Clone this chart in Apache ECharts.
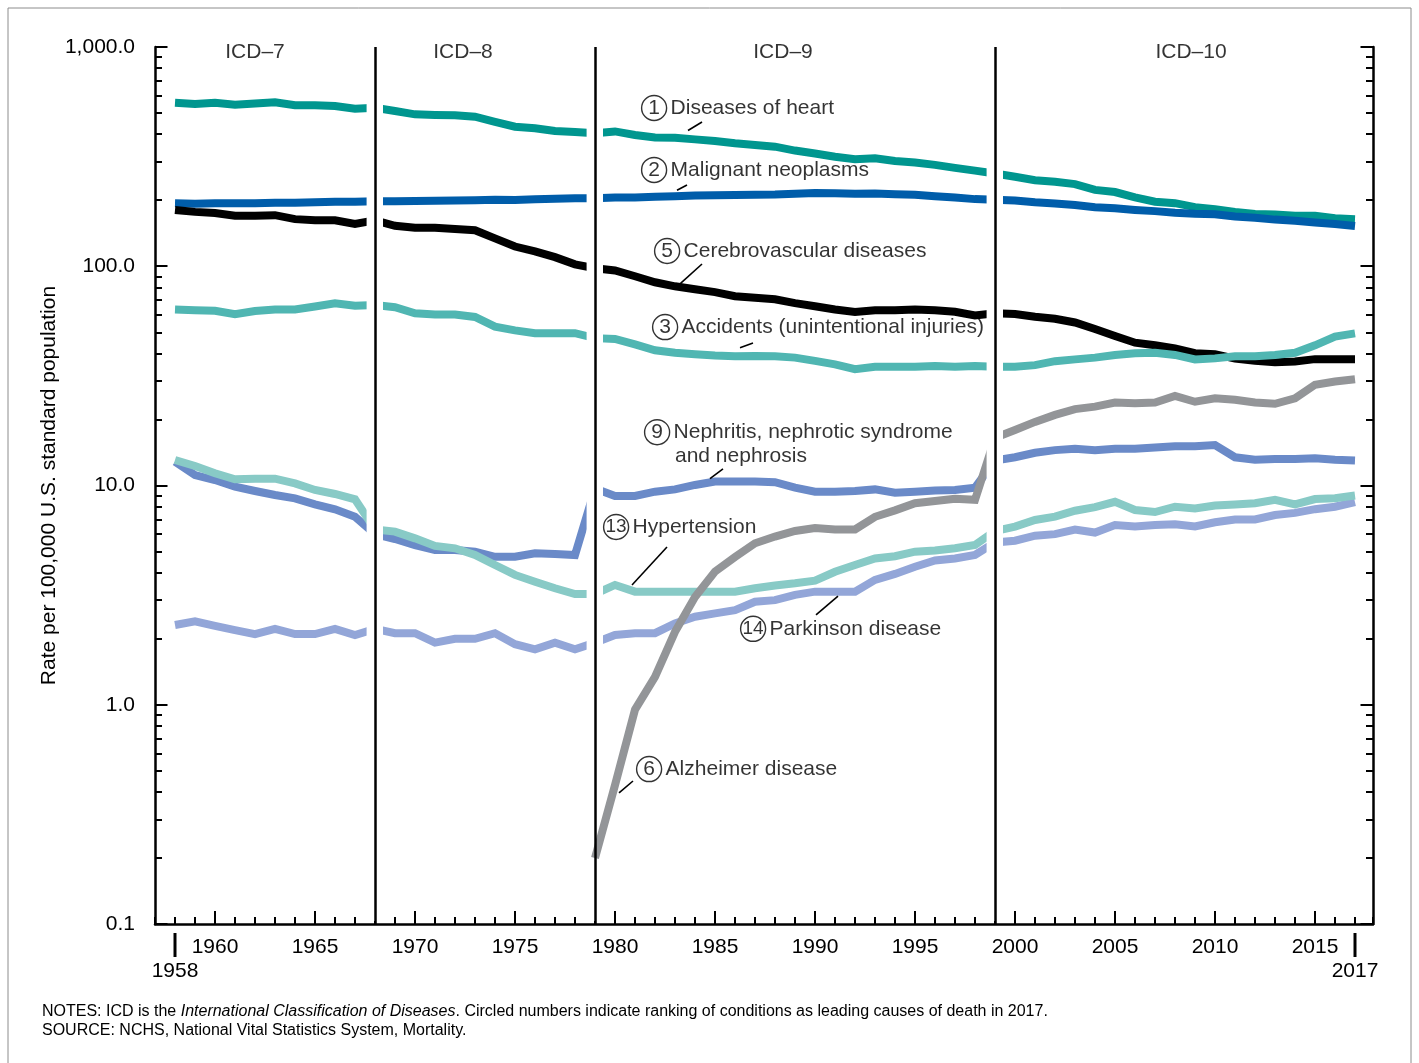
<!DOCTYPE html>
<html><head><meta charset="utf-8">
<script src="https://cdn.jsdelivr.net/npm/echarts@6/dist/echarts.min.js"></script>
<style>html,body{margin:0;padding:0;background:#fff}#c{width:1419px;height:1063px}</style>
</head><body><div id="c"></div>
<script>
// ---------- DATA ----------
const years = [1958,1959,1960,1961,1962,1963,1964,1965,1966,1967,
  1968,1969,1970,1971,1972,1973,1974,1975,1976,1977,1978,
  1979,1980,1981,1982,1983,1984,1985,1986,1987,1988,1989,1990,1991,1992,1993,1994,1995,1996,1997,1998,
  1999,2000,2001,2002,2003,2004,2005,2006,2007,2008,2009,2010,2011,2012,2013,2014,2015,2016,2017];
const heart = [557,550,557,545,553,560,542,542,538,523,
  528,511,493,490,488,481,456,433,426,414,410,
  404,412,397,387,386,379,373,364,357,351,337,327,316,308,311,302,297,290,281,273,
  265,256,247,243,237,223,218,206,197,194,186,182,177,173,172,170,170,165.5,164];
const cancer = [194,193,194,194,194,195,195,196,197,197,
  198,198,198.6,199,199.5,200,201,200.5,202,203,204,
  204,206,206,207.5,208.5,210,211,211.5,212,212.5,214,216,215.5,214.3,214.6,213,211.7,208.7,205.7,202.4,
  200.8,199.6,196,193.5,190.1,185.8,183.8,180.7,178.4,175.3,173.5,172.8,168.6,166.5,163.2,161.2,158.5,155.8,152.5];
const stroke = [180.6,177,175,170,170,171,164,162,162,156,
  162,153,150,150,148,146,134,123,117,110,102,
  98,95.7,90,84.5,81,78.6,76.2,73,71.8,70.7,67.9,65.7,63.5,61.8,63,63,63.5,63,62,59.6,
  61,60.5,58.8,57.6,55.4,51.7,48.1,44.8,43.6,42.2,40.1,39.7,37.9,37.1,36.5,36.8,37.7,37.7,37.7];
const accidents = [63.5,63,62.7,60.5,62.5,63.5,63.5,65.5,67.8,66,
  66.5,65,61,60.3,60.3,58.7,53,51,49.5,49.5,49.5,
  47,46.6,44,41.4,40.3,39.7,39.2,38.9,39,38.9,38.3,37,35.7,33.9,34.8,34.8,34.8,35.1,34.8,35.1,
  34.8,34.8,35.4,36.9,37.6,38.3,39.4,40.1,40.3,39.4,37.6,38,38.9,38.9,39.4,40.3,43.6,47.8,49.4];
const alzheimer = [null,null,null,null,null,null,null,null,null,null,
  null,null,null,null,null,null,null,null,null,null,null,
  0.2,0.43,0.95,1.34,2.15,3.1,4.05,4.72,5.45,5.85,6.2,6.4,6.3,6.3,7.2,7.7,8.3,8.5,8.7,8.6,
  16.5,17.9,19.5,21.0,22.3,22.9,23.9,23.7,23.9,25.6,24.1,25.0,24.6,23.9,23.6,25.0,28.8,29.8,30.5];
const nephritis = [12.84,11.16,10.59,9.87,9.44,9.05,8.74,8.21,7.79,7.21,
  6.0,5.7,5.35,5.08,5.08,4.99,4.73,4.73,4.91,4.87,4.82,
  9.7,8.96,8.96,9.37,9.6,10.06,10.42,10.42,10.42,10.35,9.77,9.37,9.37,9.45,9.6,9.27,9.37,9.5,9.55,9.77,
  13.0,13.45,14.1,14.5,14.7,14.5,14.7,14.7,14.9,15.1,15.1,15.3,13.45,13.1,13.2,13.2,13.3,13.1,13.0];
const hypertension = [13.07,12.27,11.37,10.67,10.74,10.74,10.23,9.54,9.15,8.65,
  6.3,6.16,5.74,5.30,5.17,4.82,4.34,3.91,3.64,3.40,3.20,
  3.2,3.52,3.28,3.28,3.28,3.28,3.28,3.28,3.40,3.50,3.58,3.68,4.04,4.34,4.65,4.76,4.99,5.05,5.17,5.35,
  6.2,6.49,6.96,7.21,7.67,7.97,8.43,7.73,7.57,8.0,7.86,8.1,8.2,8.3,8.6,8.2,8.67,8.75,9.0];
const parkinson = [2.31,2.40,2.29,2.19,2.1,2.22,2.1,2.1,2.22,2.08,
  2.22,2.12,2.12,1.92,2.0,2.0,2.12,1.89,1.79,1.92,1.79,
  1.92,2.08,2.12,2.12,2.35,2.52,2.61,2.70,2.95,3.0,3.17,3.28,3.28,3.28,3.71,3.95,4.26,4.55,4.65,4.82,
  5.5,5.6,5.9,6.0,6.3,6.1,6.6,6.5,6.6,6.65,6.5,6.8,7.0,7.0,7.33,7.5,7.8,8.0,8.4];

const yTickValues = [0.1, 1, 10, 100, 1000];
const yTickLabels = ['0.1', '1.0', '10.0', '100.0', '1,000.0'];
const xLabelYears = [1960,1965,1970,1975,1980,1985,1990,1995,2000,2005,2010,2015];
const xEndYears = [1958, 2017];
const icdBreaks = [1968, 1979, 1999];
const icdNames = ['ICD\u20137', 'ICD\u20138', 'ICD\u20139', 'ICD\u201310'];

// ---------- LAYOUT / STYLE ----------
const FONT = '"Liberation Sans", Arial, sans-serif';
const X_MIN = 1957, X_MAX = 2017.9, Y_MIN = 0.1, Y_MAX = 1000;
const G_LEFT = 155, G_RIGHT = 46, G_TOP = 47, G_BOTTOM = 139;
const plotW = 1419 - G_LEFT - G_RIGHT, plotH = 1063 - G_TOP - G_BOTTOM;
const YR_PER_PX = (X_MAX - X_MIN) / plotW;
const DEC_PER_PX = 4 / plotH;
const upPx = (v, px) => v * Math.pow(10, px * DEC_PER_PX);

const chart = echarts.init(document.getElementById('c'), null, {renderer: 'canvas'});
const pairs = arr => years.map((y, i) => [y, arr[i] == null ? '-' : arr[i]]);

function lineSeries(name, arr, color, z) {
  return {
    name, type: 'line', data: pairs(arr), z: z || 2, symbol: 'none', showSymbol: false,
    connectNulls: false, silent: true, animation: false,
    lineStyle: {color, width: 8, cap: 'butt', join: 'miter'},
    emphasis: {disabled: true}
  };
}

// white gaps around ICD break lines
const gapLo = 0.42, gapHi = 0.4;
const bandData = b => [{coord: [b - gapLo, upPx(Y_MIN, 3)]}, {coord: [b + gapHi, Y_MAX]}];

// tick marks
const tickSegs = [];
for (let d = 0; d < 4; d++) {
  const base = yTickValues[d];
  for (let m = 2; m <= 9; m++) {
    const v = base * m;
    tickSegs.push([{coord: [X_MIN, v]}, {coord: [X_MIN + 7 * YR_PER_PX, v]}]);
    tickSegs.push([{coord: [X_MAX, v]}, {coord: [X_MAX - 7 * YR_PER_PX, v]}]);
  }
}
xLabelYears.forEach(y => tickSegs.push([{coord: [y, Y_MIN]}, {coord: [y, upPx(Y_MIN, 13)]}]));

const icdLines = icdBreaks.map(b => [{coord: [b, Y_MIN]}, {coord: [b, Y_MAX]}]);

// leader lines from labels to curves
const leaders = [
  [[1984.35, 455], [1983.65, 416]],
  [[1983.6, 234.8], [1983.1, 222]],
  [[1984.35, 102.4], [1983.25, 83.1]],
  [[1986.9, 44.7], [1986.25, 42.5]],
  [[1985.4, 11.9], [1984.75, 10.74]],
  [[1982.6, 5.24], [1980.85, 3.52]],
  [[1991.15, 3.13], [1990.05, 2.57]],
  [[1980.9, 0.449], [1980.2, 0.396]]
].map(p => [{coord: p[0]}, {coord: p[1]}]);

const annotations = [
  {value: [1981.33, 527], text: '{c|1}{t|Diseases of heart}'},
  {value: [1981.33, 275], text: '{c|2}{t|Malignant neoplasms}'},
  {value: [1981.98, 117.4], text: '{c|5}{t|Cerebrovascular diseases}'},
  {value: [1981.88, 52.8], text: '{c|3}{t|Accidents (unintentional injuries)}'},
  {value: [1981.48, 17.5], text: '{c|9}{t|Nephritis, nephrotic syndrome}'},
  {value: [1983.0, 13.6], text: '{t0|and nephrosis}'},
  {value: [1979.43, 6.47], text: '{c2|13}{t|Hypertension}'},
  {value: [1986.28, 2.22], text: '{c2|14}{t|Parkinson disease}'},
  {value: [1981.08, 0.509], text: '{c|6}{t|Alzheimer disease}'}
];
const icdLabelPos = [[1962, 950], [1972.4, 950], [1988.4, 950], [2008.8, 950]];

const circ = {width: 25, height: 25, lineHeight: 25, align: 'center', verticalAlign: 'middle',
  borderColor: '#000', borderWidth: 1.4, borderRadius: 13.5, fontSize: 21, color: '#000', fontFamily: FONT};
const richAnn = {
  c: circ,
  c2: Object.assign({}, circ, {fontSize: 19}),
  t: {fontSize: 21, color: '#000', fontFamily: FONT, padding: [0, 0, 0, 4]},
  t0: {fontSize: 21, color: '#000', fontFamily: FONT}
};

const labelData = annotations.map(a => ({
  value: a.value,
  label: {show: true, formatter: a.text, position: 'inside', align: 'left', verticalAlign: 'middle', rich: richAnn}
})).concat(icdLabelPos.map((p, i) => ({
  value: p,
  label: {show: true, formatter: icdNames[i], position: 'inside', align: 'center', verticalAlign: 'middle',
    fontSize: 21, color: '#000', fontFamily: FONT}
})));

const option = {
  animation: false,
  backgroundColor: '#fff',
  textStyle: {fontFamily: FONT},
  grid: {left: G_LEFT, right: G_RIGHT, top: G_TOP, bottom: G_BOTTOM, containLabel: false},
  xAxis: {
    type: 'value', min: X_MIN, max: X_MAX, interval: 1,
    splitLine: {show: false},
    axisLine: {show: true, lineStyle: {color: '#000', width: 2.5}},
    axisTick: {show: true, inside: true, length: 7, lineStyle: {color: '#000', width: 2}},
    axisLabel: {
      show: true, margin: 9, interval: 0, hideOverlap: false, color: '#000', fontFamily: FONT, fontSize: 21,
      showMinLabel: true, showMaxLabel: true,
      formatter: function (v) {
        const y = Math.round(v * 10) / 10;
        if (xEndYears.indexOf(y) >= 0) return '{bar|}\n{yr|' + y + '}';
        if (xLabelYears.indexOf(y) >= 0) return '{n|' + y + '}';
        return '';
      },
      rich: {
        n: {fontSize: 21, lineHeight: 21, padding: [8, 0, 0, 0], color: '#000', fontFamily: FONT},
        bar: {width: 3, height: 24, lineHeight: 24, backgroundColor: '#000'},
        yr: {fontSize: 21, lineHeight: 28, color: '#000', fontFamily: FONT}
      }
    }
  },
  yAxis: [{
    type: 'log', logBase: 10, min: Y_MIN, max: Y_MAX, position: 'left',
    name: 'Rate per 100,000 U.S. standard population', nameLocation: 'middle', nameGap: 95,
    nameMoveOverlap: false,
    nameTextStyle: {fontSize: 21, color: '#000', fontFamily: FONT},
    splitLine: {show: false},
    axisLine: {show: true, lineStyle: {color: '#000', width: 2.5}},
    axisTick: {show: true, inside: true, length: 12.5, lineStyle: {color: '#000', width: 2}},
    axisLabel: {
      show: true, margin: 20, color: '#000', fontSize: 21, fontFamily: FONT,
      formatter: function (v) {
        const i = Math.round(Math.log10(v)) + 1;
        return yTickLabels[i] || '';
      }
    }
  }, {
    type: 'log', logBase: 10, min: Y_MIN, max: Y_MAX, position: 'right',
    splitLine: {show: false},
    axisLine: {show: true, lineStyle: {color: '#000', width: 2.5}},
    axisTick: {show: true, inside: true, length: 12.5, lineStyle: {color: '#000', width: 2}},
    axisLabel: {show: false}
  }],
  series: [
    lineSeries('Diseases of heart', heart, '#00968F'),
    lineSeries('Malignant neoplasms', cancer, '#005DAA'),
    lineSeries('Cerebrovascular diseases', stroke, '#000000'),
    lineSeries('Accidents (unintentional injuries)', accidents, '#50B6B2'),
    lineSeries('Nephritis, nephrotic syndrome and nephrosis', nephritis, '#6A8AC8'),
    lineSeries('Parkinson disease', parkinson, '#93A6D8'),
    lineSeries('Hypertension', hypertension, '#88CAC6'),
    {
      type: 'line', data: [], z: 3, silent: true,
      markArea: {z: 3, silent: true, itemStyle: {color: '#ffffff', opacity: 1, borderWidth: 0},
        label: {show: false}, data: [bandData(icdBreaks[0]), bandData(icdBreaks[1])]}
    },
    lineSeries('Alzheimer disease', alzheimer, '#939598', 4),
    {
      type: 'line', data: [], z: 5, silent: true,
      markArea: {z: 5, silent: true, itemStyle: {color: '#ffffff', opacity: 1, borderWidth: 0},
        label: {show: false}, data: [bandData(icdBreaks[2])]}
    },
    {
      type: 'line', data: [], z: 6, silent: true, clip: false,
      markLine: {z: 6, silent: true, symbol: ['none', 'none'], label: {show: false},
        lineStyle: {color: '#000', width: 2.5, type: 'solid'}, data: icdLines}
    },
    {
      type: 'line', data: [], z: 6, silent: true, clip: false,
      markLine: {z: 6, silent: true, symbol: ['none', 'none'], label: {show: false},
        lineStyle: {color: '#000', width: 2, type: 'solid'}, data: tickSegs}
    },
    {
      type: 'line', data: [], z: 6, silent: true, clip: false,
      markLine: {z: 6, silent: true, symbol: ['none', 'none'], label: {show: false},
        lineStyle: {color: '#000', width: 1.6, type: 'solid'}, data: leaders}
    },
    {
      type: 'scatter', z: 7, silent: true, symbolSize: 1,
      itemStyle: {color: 'rgba(0,0,0,0)'}, data: labelData
    }
  ],
  graphic: [
    {type: 'rect', silent: true, z: 100, shape: {x: 8, y: 8, width: 1403, height: 1080},
      style: {fill: 'none', stroke: '#8c8c8c', lineWidth: 1}},
    {type: 'text', silent: true, left: 42, top: 1004,
      style: {text: 'NOTES: ICD is the {i|International Classification of Diseases}. Circled numbers indicate ranking of conditions as leading causes of death in 2017.',
        fontSize: 16, fontFamily: FONT, fill: '#000',
        rich: {i: {fontStyle: 'italic', fontSize: 16, fontFamily: FONT, fill: '#000'}}}},
    {type: 'text', silent: true, left: 42, top: 1023,
      style: {text: 'SOURCE: NCHS, National Vital Statistics System, Mortality.',
        fontSize: 16, fontFamily: FONT, fill: '#000'}}
  ]
};
chart.setOption(option);
</script>
</body></html>
